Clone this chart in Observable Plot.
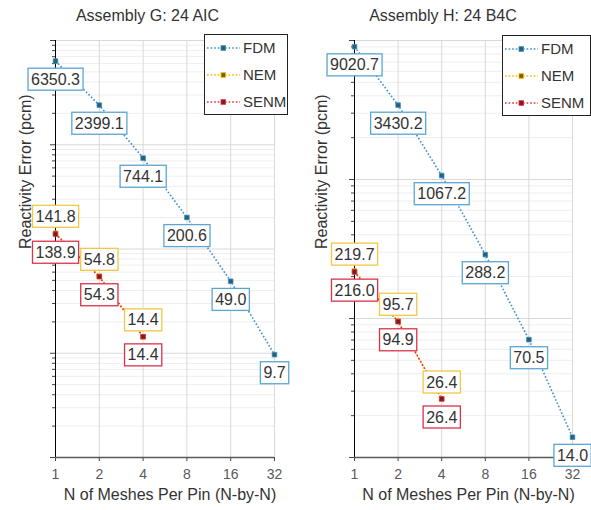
<!DOCTYPE html>
<html><head><meta charset="utf-8">
<script src="https://cdn.jsdelivr.net/npm/d3@7"></script>
<script src="https://cdn.jsdelivr.net/npm/@observablehq/plot@0.6"></script>
<style>
body{margin:0;background:#fff;font-family:"Liberation Sans",Arial,sans-serif;}
#wrap{display:flex;width:591px;height:510px;overflow:hidden;}
.panel{position:relative;}
.title{height:32px;line-height:32px;text-align:center;font-size:16px;color:#333;}
.legend{position:absolute;background:#fff;border:1px solid #222;box-sizing:border-box;}
</style></head><body><div id="wrap"></div>
<script>
// ---- data ----
const meshes = [1, 2, 4, 8, 16, 32];
const nodalMeshes = [1, 2, 4];
const seriesNames = ["FDM", "NEM", "SENM"];
const titleG = "Assembly G: 24 AIC";
const titleH = "Assembly H: 24 B4C";
const fdmG = [6350.3, 2399.1, 744.1, 200.6, 49.0, 9.7];
const nemG = [141.8, 54.8, 14.4];
const senmG = [138.9, 54.3, 14.4];
const fdmH = [9020.7, 3430.2, 1067.2, 288.2, 70.5, 14.0];
const nemH = [219.7, 95.7, 26.4];
const senmH = [216.0, 94.9, 26.4];
const xTitle = "N of Meshes Per Pin (N-by-N)";
const yTitle = "Reactivity Error (pcm)";

// ---- styles ----
const lineColor = {FDM: "#3d8fc6", NEM: "#f5b800", SENM: "#e0303a"};
const dotFill = {FDM: "#2a5f73", NEM: "#7f6000", SENM: "#7b1c24"};
const boxColor = {FDM: "#5aa5d2", NEM: "#f2c744", SENM: "#d9334a"};
const labelDy = {FDM: 18.5, NEM: -16.5, SENM: 18.5};
const dash = "1.6 2";

const panels = [
  {title: titleG, fdm: fdmG, nem: nemG, senm: senmG, yDomain: [1, 10000], width: 295, marginLeft: 55, marginRight: 21, yLabelDx: -30, legLeft: 204, legTop: 34, legW: 84},
  {title: titleH, fdm: fdmH, nem: nemH, senm: senmH, yDomain: [10, 10000], width: 296, marginLeft: 59, marginRight: 19, yLabelDx: -33, legLeft: 207, legTop: 35, legW: 89}
];

const wrap = document.getElementById("wrap");

for (const p of panels) {
  const rows = [];
  p.fdm.forEach((v, i) => rows.push({series: "FDM", x: meshes[i], y: v}));
  p.nem.forEach((v, i) => rows.push({series: "NEM", x: nodalMeshes[i], y: v}));
  p.senm.forEach((v, i) => rows.push({series: "SENM", x: nodalMeshes[i], y: v}));

  const yAll = d3.scaleLog().domain(p.yDomain).ticks();
  const isMajor = v => Math.abs(Math.log10(v) - Math.round(Math.log10(v))) < 1e-9;
  const yMajor = yAll.filter(isMajor);
  const yMinor = yAll.filter(v => !isMajor(v));

  const marks = [
    Plot.ruleY(yMinor, {stroke: "#eeeeee"}),
    Plot.ruleY(yMajor, {stroke: "#d9d9d9"}),
    Plot.ruleX(meshes.slice(1), {stroke: "#d9d9d9"}),
    Plot.axisY(yMinor, {tickSize: 3, tickFormat: () => "", label: null, stroke: "#444"}),
    Plot.axisY(yMajor, {tickSize: 5, tickFormat: () => "", label: null, stroke: "#444"}),
    Plot.axisX(meshes, {tickSize: 4, tickPadding: 8, tickFormat: d => String(d), label: null, fontSize: 14, fill: "#595959", stroke: "#444"}),
    Plot.ruleX([meshes[0]], {stroke: "#000"}),
    Plot.ruleY([p.yDomain[0]], {stroke: "#595959", strokeWidth: 1.5})
  ];
  for (const s of seriesNames) {
    const d = rows.filter(r => r.series === s);
    marks.push(Plot.line(d, {x: "x", y: "y", stroke: lineColor[s], strokeWidth: 1.6, strokeDasharray: dash, strokeLinecap: "butt", strokeLinejoin: "miter"}));
  }
  for (const s of seriesNames) {
    const d = rows.filter(r => r.series === s);
    marks.push(Plot.dot(d, {x: "x", y: "y", symbol: "square", r: 2.6, fill: dotFill[s], stroke: lineColor[s], strokeWidth: 0.8}));
  }
  for (const s of seriesNames) {
    const d = rows.filter(r => r.series === s);
    marks.push(Plot.text(d, {x: "x", y: "y", text: r => r.y.toFixed(1), dy: labelDy[s], fontSize: 16, fill: "#333", ariaDescription: "lbl-" + s}));
  }
  marks.push(Plot.text([yTitle], {text: d => d, frameAnchor: "left", rotate: -90, dx: p.yLabelDx, fontSize: 16, fill: "#333"}));
  marks.push(Plot.text([xTitle], {text: d => d, frameAnchor: "bottom", dy: 42, dx: 5, fontSize: 16, fill: "#333"}));

  const chart = Plot.plot({
    width: p.width,
    height: 478,
    marginTop: 8,
    marginBottom: 53,
    marginLeft: p.marginLeft,
    marginRight: p.marginRight,
    x: {type: "log", base: 2, domain: [meshes[0], meshes[meshes.length - 1]], axis: null},
    y: {type: "log", domain: p.yDomain, axis: null},
    style: {fontFamily: "'Liberation Sans', Arial, sans-serif", fontSize: "14px", color: "#333", background: "white", overflow: "visible"},
    marks
  });

  const panel = document.createElement("div");
  panel.className = "panel";
  panel.style.width = p.width + "px";
  const t = document.createElement("div");
  t.className = "title";
  t.textContent = p.title;
  panel.appendChild(t);
  panel.appendChild(chart);
  wrap.appendChild(panel);

  // boxes behind data labels
  const NS = "http://www.w3.org/2000/svg";
  chart.querySelectorAll('g[aria-description^="lbl-"]').forEach(g => {
    const name = g.getAttribute("aria-description").slice(4);
    g.querySelectorAll("text").forEach(tx => {
      const b = tx.getBBox();
      const r = document.createElementNS(NS, "rect");
      r.setAttribute("x", b.x - 3);
      r.setAttribute("y", b.y - 2.5);
      r.setAttribute("width", b.width + 6);
      r.setAttribute("height", b.height + 5);
      r.setAttribute("fill", "white");
      r.setAttribute("stroke", boxColor[name]);
      r.setAttribute("stroke-width", 1.3);
      const tr = tx.getAttribute("transform");
      if (tr) r.setAttribute("transform", tr);
      g.insertBefore(r, tx);
    });
  });

  // legend
  const leg = d3.select(panel).append("div").attr("class", "legend")
    .style("left", p.legLeft + "px").style("top", p.legTop + "px")
    .style("width", p.legW + "px").style("height", "81px");
  const ls = leg.append("svg").attr("width", p.legW - 2).attr("height", 79);
  seriesNames.forEach((s, i) => {
    const y = 13 + i * 27;
    ls.append("line").attr("x1", 2).attr("x2", 35).attr("y1", y).attr("y2", y)
      .attr("stroke", lineColor[s]).attr("stroke-width", 1.6).attr("stroke-dasharray", dash);
    ls.append("rect").attr("x", 16).attr("y", y - 2.3).attr("width", 4.6).attr("height", 4.6)
      .attr("fill", dotFill[s]).attr("stroke", lineColor[s]).attr("stroke-width", 0.8);
    ls.append("text").attr("x", 38).attr("y", y + 5.3).attr("font-size", 15).attr("fill", "#333")
      .attr("font-family", "'Liberation Sans', Arial, sans-serif").text(s);
  });
}
</script></body></html>
